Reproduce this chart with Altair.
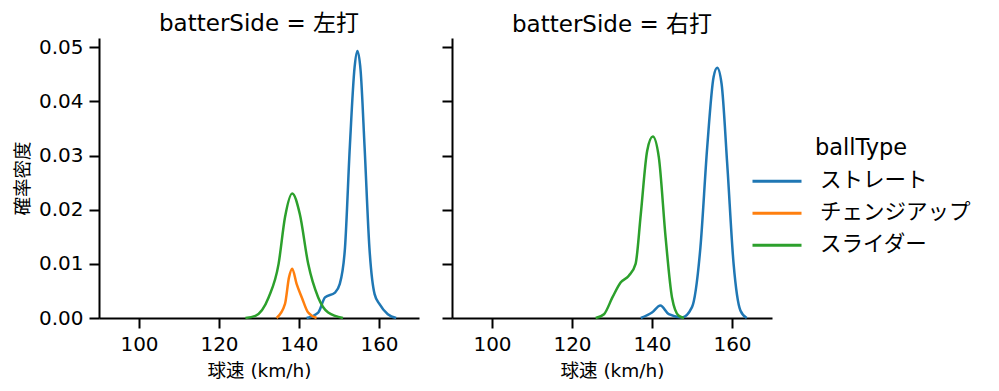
import altair as alt
import pandas as pd

FONT = "DejaVu Sans, Noto Sans CJK JP"
BALL_TYPES = ["ストレート", "チェンジアップ", "スライダー"]
COLORS = ["#1f77b4", "#ff7f0e", "#2ca02c"]

# 左打
L_straight_x = [141.9, 144.8, 146.5, 149.0, 150.2, 151.5, 152.7, 153.9, 154.6, 155.4, 156.4, 157.6, 158.9, 160.1, 162.2, 164.3]
L_straight_y = [0.0, 0.001, 0.0038, 0.0047, 0.0063, 0.013, 0.0315, 0.0463, 0.0493, 0.0457, 0.0315, 0.013, 0.0044, 0.0026, 0.0007, 0.0]
L_change_x = [134.4, 136.5, 137.5, 138.3, 139.4, 140.7, 142.3, 144.4]
L_change_y = [0.0, 0.0026, 0.0075, 0.0091, 0.0063, 0.0038, 0.001, 0.0]
L_slider_x = [126.6, 129.1, 132.4, 134.9, 136.5, 138.3, 140.2, 142.3, 144.8, 147.3, 151.0]
L_slider_y = [0.0, 0.0004, 0.0038, 0.010, 0.0186, 0.023, 0.0192, 0.010, 0.0038, 0.001, 0.0]

# 右打
R_straight_x = [137.2, 140.0, 142.1, 144.2, 147.5, 150.0, 152.1, 153.8, 155.4, 156.3, 157.4, 158.8, 160.4, 162.1, 163.7]
R_straight_y = [0.0, 0.001, 0.0023, 0.0007, 0.0001, 0.002, 0.013, 0.0315, 0.0445, 0.0462, 0.0432, 0.0285, 0.010, 0.0014, 0.0]
R_slider_x = [125.9, 128.0, 130.1, 132.2, 134.2, 135.9, 137.2, 138.8, 140.2, 141.7, 143.4, 145.0, 146.7, 148.0]
R_slider_y = [0.0, 0.0007, 0.0038, 0.0066, 0.0078, 0.010, 0.0192, 0.0309, 0.0335, 0.0297, 0.0149, 0.0038, 0.0004, 0.0]


def frame(xs, ys, bt):
    return pd.DataFrame({"speed": xs, "density": ys, "ballType": bt})


left_df = pd.concat([
    frame(L_straight_x, L_straight_y, "ストレート"),
    frame(L_change_x, L_change_y, "チェンジアップ"),
    frame(L_slider_x, L_slider_y, "スライダー"),
])
right_df = pd.concat([
    frame(R_straight_x, R_straight_y, "ストレート"),
    frame(R_slider_x, R_slider_y, "スライダー"),
])

color = alt.Color(
    "ballType:N",
    scale=alt.Scale(domain=BALL_TYPES, range=COLORS),
    sort=BALL_TYPES,
    legend=alt.Legend(title="ballType", symbolType="stroke", symbolStrokeWidth=3,
                      symbolSize=2401, labelFontSize=21.5, titleFontSize=22.5,
                      titleFontWeight="normal", rowPadding=0, clipHeight=31.5,
                      labelOffset=17, titlePadding=6, orient="none",
                      legendX=652, legendY=99, titleAnchor="middle", padding=0),
)

x_enc = alt.X("speed:Q", scale=alt.Scale(domain=[90, 170], nice=False, zero=False),
              axis=alt.Axis(values=[100, 120, 140, 160], title="球速 (km/h)"))


def panel(df, title, show_labels):
    y_axis = alt.Axis(values=[0, 0.01, 0.02, 0.03, 0.04, 0.05], format=".2f",
                      title="確率密度" if show_labels else None,
                      labels=show_labels)
    return alt.Chart(df, title=alt.Title(title, fontSize=23, fontWeight="normal",
                                          font=FONT, offset=1, color="black")).mark_line(
        strokeWidth=2.5, interpolate="monotone"
    ).encode(
        x=x_enc,
        y=alt.Y("density:Q", scale=alt.Scale(domain=[0, 0.0517], nice=False), axis=y_axis),
        color=color,
        detail="ballType:N",
    ).properties(width=320, height=280)


chart = alt.hconcat(
    panel(left_df, "batterSide = 左打", True),
    panel(right_df, "batterSide = 右打", False),
    spacing=22,
).configure_view(stroke=None).configure_axis(
    grid=False, domainColor="black", domainWidth=2, tickColor="black", tickWidth=2,
    tickSize=10, labelFontSize=20, labelColor="black", labelFont=FONT,
    titleFont=FONT, titleFontSize=18.5, titleFontWeight="normal", titleColor="black",
    labelPadding=6, labelFlush=False,
).configure_axisY(titlePadding=6).configure_axisX(titlePadding=7).configure_legend(
    labelFont=FONT, titleFont=FONT, labelColor="black", titleColor="black"
)

chart.save("out.html", embed_options={"renderer": "svg", "actions": False})
